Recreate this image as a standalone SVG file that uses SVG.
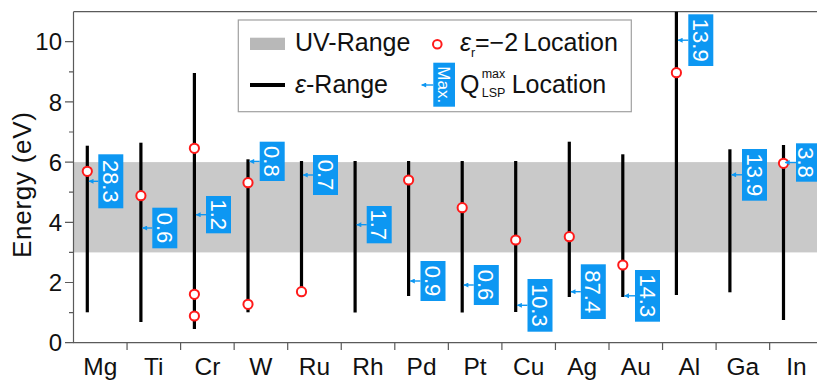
<svg xmlns="http://www.w3.org/2000/svg" width="817" height="380" viewBox="0 0 817 380">
<defs>
<marker id="ah" viewBox="0 0 10 10" refX="9" refY="5" markerWidth="6" markerHeight="5" markerUnits="userSpaceOnUse" orient="auto">
<path d="M0,0 L10,5 L0,10 z" fill="#0d97f2"/>
</marker>
<style>
text{font-family:"Liberation Sans",Arial,sans-serif;fill:#111}
.ax{stroke:#5a5a5a;stroke-width:1.2;fill:none}
.er{stroke:#000;stroke-width:3.2;fill:none}
.ep{fill:#fff;stroke:#ff1a1a;stroke-width:2}
.lb{fill:#0d97f2}
.lt{fill:#fff;font-size:22px;text-anchor:middle}
.ar{stroke:#0d97f2;stroke-width:1.4;fill:none;marker-end:url(#ah)}
.tk{font-size:24px;text-anchor:end}
.cat{font-size:24.5px;text-anchor:middle}
.lg{font-size:25px}
</style>
</defs>
<rect width="817" height="380" fill="#fff"/>
<rect id="uv-band" x="73.5" y="162.1" width="743.5" height="90.3" fill="#c9c9c9"/>
<g id="axes">
<path class="ax" d="M73.5,11.7 V342.7 H817 M73.5,11.7 H817"/>
<path class="ax" d="M65,342.7H73.5 M69,312.6H73.5 M65,282.5H73.5 M69,252.4H73.5 M65,222.3H73.5 M69,192.2H73.5 M65,162.1H73.5 M69,132H73.5 M65,101.9H73.5 M69,71.8H73.5 M65,41.7H73.5"/>
<path class="ax" d="M127.05,342.7V350 M180.6,342.7V350 M234.15,342.7V350 M287.7,342.7V350 M341.25,342.7V350 M394.8,342.7V350 M448.35,342.7V350 M501.9,342.7V350 M555.45,342.7V350 M609,342.7V350 M662.55,342.7V350 M716.1,342.7V350 M769.65,342.7V350"/>
<text class="tk" x="62" y="351.3">0</text>
<text class="tk" x="62" y="291.1">2</text>
<text class="tk" x="62" y="230.9">4</text>
<text class="tk" x="62" y="170.7">6</text>
<text class="tk" x="62" y="110.5">8</text>
<text class="tk" x="62" y="50.3">10</text>
<text font-size="26" text-anchor="middle" transform="translate(31,185) rotate(-90)" textLength="146" lengthAdjust="spacing">Energy (eV)</text>
<text class="cat" x="100.3" y="374.5">Mg</text>
<text class="cat" x="153.8" y="374.5">Ti</text>
<text class="cat" x="207.4" y="374.5">Cr</text>
<text class="cat" x="260.9" y="374.5">W</text>
<text class="cat" x="314.5" y="374.5">Ru</text>
<text class="cat" x="368" y="374.5">Rh</text>
<text class="cat" x="421.6" y="374.5">Pd</text>
<text class="cat" x="475.1" y="374.5">Pt</text>
<text class="cat" x="528.7" y="374.5">Cu</text>
<text class="cat" x="582.2" y="374.5">Ag</text>
<text class="cat" x="635.8" y="374.5">Au</text>
<text class="cat" x="689.3" y="374.5">Al</text>
<text class="cat" x="742.9" y="374.5">Ga</text>
<text class="cat" x="796.4" y="374.5">In</text>
</g>
<g id="Mg"><line class="er" x1="87.3" y1="145.7" x2="87.3" y2="312.3"/><circle class="ep" cx="87.3" cy="171.3" r="4.6"/>
<rect class="lb" x="98.3" y="154.3" width="25" height="54"/><text class="lt" transform="translate(110.8,181.3) rotate(90)" y="7.9">28.3</text></g>
<g id="Ti"><line class="er" x1="140.9" y1="142.7" x2="140.9" y2="322"/><circle class="ep" cx="140.9" cy="195.7" r="4.6"/>
<rect class="lb" x="152.3" y="207.7" width="25" height="40.6"/><text class="lt" transform="translate(164.8,228) rotate(90)" y="7.9">0.6</text></g>
<g id="Cr"><line class="er" x1="194.4" y1="73" x2="194.4" y2="329"/><circle class="ep" cx="194.4" cy="148.3" r="4.6"/><circle class="ep" cx="194.4" cy="294.3" r="4.6"/><circle class="ep" cx="194.4" cy="316" r="4.6"/>
<rect class="lb" x="206" y="196" width="25" height="37.3"/><text class="lt" transform="translate(218.5,214.7) rotate(90)" y="7.9">1.2</text></g>
<g id="W"><line class="er" x1="248" y1="159.3" x2="248" y2="312.3"/><circle class="ep" cx="248" cy="182.7" r="4.6"/><circle class="ep" cx="248" cy="304.3" r="4.6"/>
<rect class="lb" x="259.7" y="141.7" width="25" height="39.3"/><text class="lt" transform="translate(272.2,161.4) rotate(90)" y="7.9">0.8</text></g>
<g id="Ru"><line class="er" x1="301.5" y1="161" x2="301.5" y2="292"/><circle class="ep" cx="301.5" cy="291.7" r="4.6"/>
<rect class="lb" x="313" y="155" width="25" height="40"/><text class="lt" transform="translate(325.5,175) rotate(90)" y="7.9">0.7</text></g>
<g id="Rh"><line class="er" x1="355.1" y1="161" x2="355.1" y2="312.5"/>
<rect class="lb" x="366.7" y="206" width="25" height="37.3"/><text class="lt" transform="translate(379.2,224.7) rotate(90)" y="7.9">1.7</text></g>
<g id="Pd"><line class="er" x1="408.6" y1="161" x2="408.6" y2="296"/><circle class="ep" cx="408.6" cy="180" r="4.6"/>
<rect class="lb" x="420.5" y="261" width="25" height="40"/><text class="lt" transform="translate(433,281) rotate(90)" y="7.9">0.9</text></g>
<g id="Pt"><line class="er" x1="462.2" y1="161" x2="462.2" y2="312.5"/><circle class="ep" cx="462.2" cy="207.7" r="4.6"/>
<rect class="lb" x="473.8" y="265" width="25" height="40"/><text class="lt" transform="translate(486.3,285) rotate(90)" y="7.9">0.6</text></g>
<g id="Cu"><line class="er" x1="515.7" y1="161" x2="515.7" y2="312"/><circle class="ep" cx="515.7" cy="240" r="4.6"/>
<rect class="lb" x="527.5" y="279" width="25" height="52.7"/><text class="lt" transform="translate(540,305.3) rotate(90)" y="7.9">10.3</text></g>
<g id="Ag"><line class="er" x1="569.3" y1="141.7" x2="569.3" y2="297"/><circle class="ep" cx="569.3" cy="236.7" r="4.6"/>
<rect class="lb" x="580.8" y="264.3" width="25" height="54.7"/><text class="lt" transform="translate(593.3,291.7) rotate(90)" y="7.9">87.4</text></g>
<g id="Au"><line class="er" x1="622.8" y1="154.3" x2="622.8" y2="297"/><circle class="ep" cx="622.8" cy="265" r="4.6"/>
<rect class="lb" x="635" y="270" width="25" height="51.7"/><text class="lt" transform="translate(647.5,295.8) rotate(90)" y="7.9">14.3</text></g>
<g id="Al"><line class="er" x1="676.4" y1="11.7" x2="676.4" y2="295"/><circle class="ep" cx="676.4" cy="72.7" r="4.6"/>
<rect class="lb" x="688.3" y="14.3" width="25" height="51.7"/><text class="lt" transform="translate(700.8,40.2) rotate(90)" y="7.9">13.9</text></g>
<g id="Ga"><line class="er" x1="729.9" y1="149.3" x2="729.9" y2="292.3"/>
<rect class="lb" x="742" y="149" width="25" height="51.7"/><text class="lt" transform="translate(754.5,174.8) rotate(90)" y="7.9">13.9</text></g>
<g id="In"><line class="er" x1="783.5" y1="145" x2="783.5" y2="320"/><circle class="ep" cx="783.5" cy="163.3" r="4.6"/>
<rect class="lb" x="796" y="143.3" width="21" height="38.4"/><text class="lt" transform="translate(805,162.5) rotate(90)" y="7.2" font-size="20">3.8</text></g>
<g id="connectors">
<line class="ar" x1="98.3" y1="181.3" x2="89" y2="181.3"/>
<line class="ar" x1="152.3" y1="228" x2="142.6" y2="228"/>
<line class="ar" x1="206" y1="214.7" x2="196.1" y2="214.7"/>
<line class="ar" x1="259.7" y1="161.4" x2="249.7" y2="161.4"/>
<line class="ar" x1="313" y1="175" x2="303.2" y2="175"/>
<line class="ar" x1="366.7" y1="224.7" x2="356.8" y2="224.7"/>
<line class="ar" x1="420.5" y1="281" x2="410.3" y2="281"/>
<line class="ar" x1="473.8" y1="285" x2="463.9" y2="285"/>
<line class="ar" x1="527.5" y1="305.3" x2="517.4" y2="305.3"/>
<line class="ar" x1="580.8" y1="291.7" x2="571" y2="291.7"/>
<line class="ar" x1="635" y1="295.8" x2="624.5" y2="295.8"/>
<line class="ar" x1="688.3" y1="40.2" x2="678.1" y2="40.2"/>
<line class="ar" x1="742" y1="174.8" x2="731.6" y2="174.8"/>
<line class="ar" x1="796" y1="162.5" x2="785.2" y2="162.5"/>
</g>
<g id="legend">
<rect x="238.3" y="20" width="393" height="91.7" fill="#fff" stroke="#a0a0a0" stroke-width="1.2"/>
<rect x="250" y="37.7" width="35" height="12.3" fill="#b8b8b8"/>
<text class="lg" x="295" y="50.7">UV-Range</text>
<circle class="ep" cx="437.3" cy="44.3" r="4.3"/>
<text class="lg" x="460" y="50.7"><tspan font-style="italic">ε</tspan><tspan font-size="12.5" dy="6">r</tspan><tspan x="475" dy="-6">=−2</tspan><tspan x="523.3">Location</tspan></text>
<line x1="250" y1="85" x2="285" y2="85" stroke="#000" stroke-width="4"/>
<text class="lg" x="295" y="92.5"><tspan font-style="italic">ε</tspan>-Range</text>
<rect class="lb" x="433.3" y="62.7" width="21.7" height="44"/>
<text fill="#fff" style="fill:#fff" font-size="17" text-anchor="middle" transform="translate(444.2,84.7) rotate(90)" y="6.1">Max.</text>
<line class="ar" x1="433.3" y1="85" x2="421.7" y2="85"/>
<text class="lg" x="460" y="92.5">Q<tspan font-size="12.5" x="481.7" y="78.3">max</tspan><tspan font-size="12.5" x="481.7" y="97">LSP</tspan><tspan x="511.7" y="92.5">Location</tspan></text>
</g>
</svg>
